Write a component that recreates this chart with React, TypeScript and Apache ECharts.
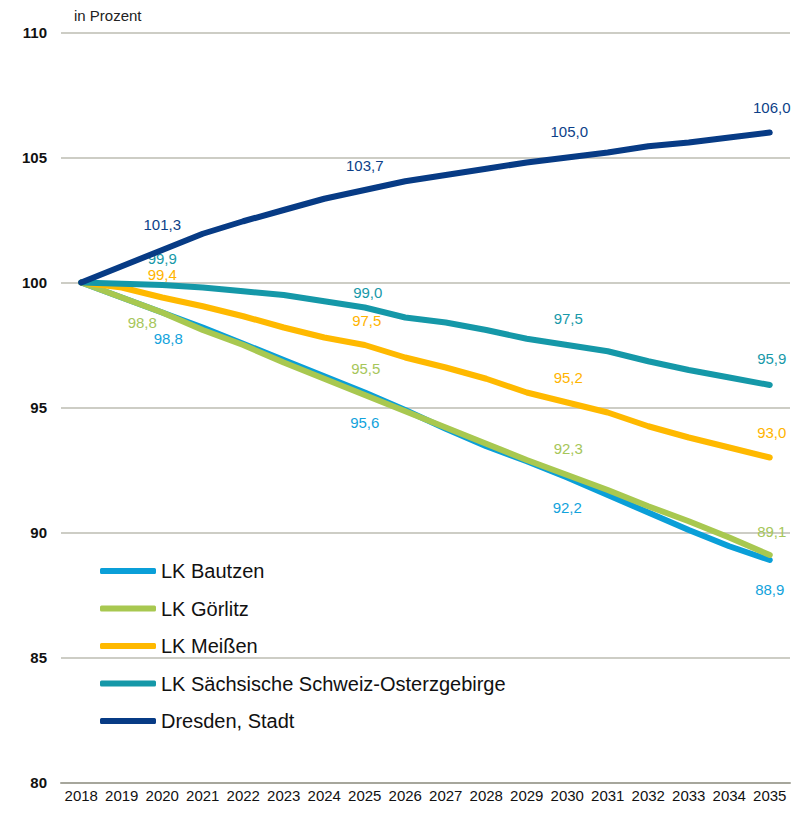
import React, { useEffect, useRef } from "react";
import * as echarts from "echarts";

const years = ["2018", "2019", "2020", "2021", "2022", "2023", "2024", "2025", "2026", "2027", "2028", "2029", "2030", "2031", "2032", "2033", "2034", "2035"];
const seriesNames = ["LK Bautzen", "LK Görlitz", "LK Meißen", "LK Sächsische Schweiz-Osterzgebirge", "Dresden, Stadt"];
const bautzen = [100, 99.4, 98.8, 98.2, 97.55, 96.9, 96.25, 95.6, 94.9, 94.15, 93.45, 92.85, 92.2, 91.5, 90.8, 90.1, 89.45, 88.9];
const goerlitz = [100, 99.4, 98.8, 98.1, 97.5, 96.8, 96.15, 95.5, 94.85, 94.2, 93.55, 92.9, 92.3, 91.7, 91.05, 90.45, 89.8, 89.1];
const meissen = [100, 99.8, 99.4, 99.05, 98.65, 98.2, 97.8, 97.5, 97.0, 96.6, 96.15, 95.6, 95.2, 94.8, 94.25, 93.8, 93.4, 93.0];
const saechsisch = [100, 99.95, 99.9, 99.8, 99.65, 99.5, 99.25, 99.0, 98.6, 98.4, 98.1, 97.75, 97.5, 97.25, 96.85, 96.5, 96.2, 95.9];
const dresden = [100, 100.65, 101.3, 101.95, 102.45, 102.9, 103.35, 103.7, 104.05, 104.3, 104.55, 104.8, 105.0, 105.2, 105.45, 105.6, 105.8, 106.0];
const labelledIndices = [2, 7, 12, 17];
const yTicks = [80, 85, 90, 95, 100, 105, 110];

const FONT = "'Liberation Sans', Arial, sans-serif";

const colors = ["#0a9fd8", "#a8c850", "#ffb900", "#1598a8", "#073b85"];
const labelColors = ["#12a3dc", "#a6c65a", "#ffb400", "#1799a9", "#0d3f88"];

// label placement per series, per labelled index: [position, distance, dx]
type Place = [string, number, number];
const placements: Place[][] = [
  [["bottom", 18, 6], ["bottom", 22, 0], ["bottom", 22, 0], ["bottom", 22, 0]],
  [["bottom", 2, -20], ["top", 19, 1], ["top", 19, 1], ["top", 16, 2]],
  [["top", 16, 0], ["top", 17.5, 2], ["top", 18, 1], ["top", 18, 2]],
  [["top", 19, 0], ["top", 7.5, 3], ["top", 19, 1], ["top", 19, 2]],
  [["top", 18.5, 0], ["top", 17.5, 0], ["top", 19, 2], ["top", 18, 2]],
];

export default function App() {
  const ref = useRef<HTMLDivElement>(null);
  useEffect(() => {
    document.body.style.margin = "0";
    if (!ref.current) return;
    const chart = echarts.init(ref.current, null, { renderer: "svg" });
    const allData = [bautzen, goerlitz, meissen, saechsisch, dresden];
    const series = allData.map((vals, si) => ({
      name: seriesNames[si],
      type: "line",
      data: vals.map((v, i) => {
        const li = labelledIndices.indexOf(i);
        if (li < 0) return v;
        const p = placements[si][li];
        return {
          value: v,
          label: {
            show: true,
            position: p[0],
            distance: p[1],
            offset: [p[2], 0],
          },
        };
      }),
      symbol: "circle",
      symbolSize: 0,
      showSymbol: true,
      showAllSymbol: true,
      smooth: false,
      lineStyle: { color: colors[si], width: 6, cap: "round", join: "round" },
      itemStyle: { color: colors[si] },
      label: {
        show: false,
        color: labelColors[si],
        fontSize: 15,
        fontFamily: FONT,
        formatter: (p: any) => Number(p.value).toFixed(1).replace(".", ","),
      },
      emphasis: { disabled: true },
      z: 2 + si,
    }));
    chart.setOption({
      animation: false,
      textStyle: { fontFamily: FONT },
      title: {
        text: "in Prozent",
        left: 69,
        top: 3,
        textStyle: { fontSize: 15, fontWeight: "normal", color: "#222", fontFamily: FONT },
      },
      grid: { left: 61, right: 17, top: 32.5, bottom: 31.5, containLabel: false },
      legend: {
        orient: "vertical",
        left: 100,
        top: 561,
        padding: 0,
        itemWidth: 56,
        itemHeight: 6,
        itemGap: 17.5,
        icon: "roundRect",
        data: seriesNames,
        textStyle: { fontSize: 20, color: "#111", fontFamily: FONT, lineHeight: 20, padding: [0, 0, 0, 0] },
        selectedMode: false,
      },
      xAxis: {
        type: "category",
        data: years,
        boundaryGap: true,
        axisLine: { show: true, lineStyle: { color: "#a6a69c", width: 2 } },
        axisTick: { show: false },
        axisLabel: { color: "#111", fontSize: 15, margin: 5, interval: 0, fontFamily: FONT },
      },
      yAxis: {
        type: "value",
        min: yTicks[0],
        max: yTicks[yTicks.length - 1],
        interval: 5,
        axisLine: { show: false },
        axisTick: { show: false },
        splitLine: { lineStyle: { color: "#cdcdc5", width: 2 } },
        axisLabel: { color: "#111", fontSize: 15, fontWeight: "bold", margin: 14, fontFamily: FONT },
      },
      series,
    });
    return () => chart.dispose();
  }, []);
  return <div ref={ref} style={{ width: 807, height: 814 }} />;
}
